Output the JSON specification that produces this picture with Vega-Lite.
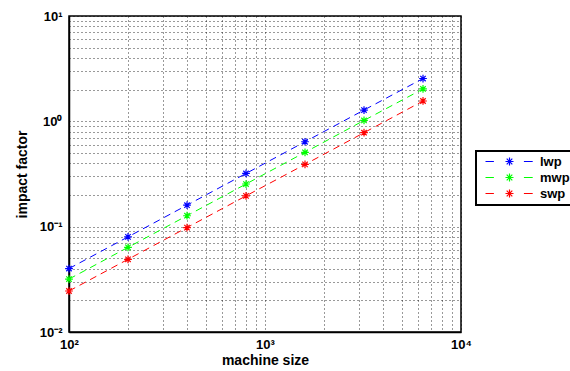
{
  "$schema": "https://vega.github.io/schema/vega-lite/v6.json",
  "width": 392,
  "height": 316,
  "autosize": {"type": "none"},
  "padding": {"left": 69, "top": 16, "right": 109, "bottom": 39},
  "background": "white",
  "config": {
    "view": {"stroke": "black", "strokeWidth": 1.5},
    "axis": {
      "domainColor": "black",
      "domainWidth": 1.5,
      "tickColor": "black",
      "labelFont": "Liberation Sans",
      "labelFontWeight": "bold",
      "labelFontSize": 13,
      "labelColor": "black",
      "titleFont": "Liberation Sans",
      "titleFontWeight": "bold",
      "titleFontSize": 14,
      "titleColor": "black",
      "gridColor": "black",
      "gridDash": [1, 3],
      "gridOpacity": 0.8,
      "tickSize": 0
    },
    "legend": {
      "labelFont": "Liberation Sans",
      "labelFontWeight": "bold",
      "labelFontSize": 13,
      "labelColor": "black"
    }
  },
  "data": {
    "values": [
      {"x": 100, "y": 0.04, "series": "lwp"},
      {"x": 200, "y": 0.08, "series": "lwp"},
      {"x": 400, "y": 0.16, "series": "lwp"},
      {"x": 800, "y": 0.32, "series": "lwp"},
      {"x": 1600, "y": 0.64, "series": "lwp"},
      {"x": 3200, "y": 1.28, "series": "lwp"},
      {"x": 6400, "y": 2.55, "series": "lwp"},
      {"x": 100, "y": 0.0318, "series": "mwp"},
      {"x": 200, "y": 0.0636, "series": "mwp"},
      {"x": 400, "y": 0.127, "series": "mwp"},
      {"x": 800, "y": 0.254, "series": "mwp"},
      {"x": 1600, "y": 0.508, "series": "mwp"},
      {"x": 3200, "y": 1.02, "series": "mwp"},
      {"x": 6400, "y": 2.03, "series": "mwp"},
      {"x": 100, "y": 0.0245, "series": "swp"},
      {"x": 200, "y": 0.049, "series": "swp"},
      {"x": 400, "y": 0.098, "series": "swp"},
      {"x": 800, "y": 0.196, "series": "swp"},
      {"x": 1600, "y": 0.39, "series": "swp"},
      {"x": 3200, "y": 0.78, "series": "swp"},
      {"x": 6400, "y": 1.56, "series": "swp"}
    ]
  },
  "encoding": {
    "x": {
      "field": "x",
      "type": "quantitative",
      "scale": {"type": "log", "domain": [100, 10000], "nice": false},
      "axis": {
        "title": "machine size",
        "values": [100, 200, 300, 400, 500, 600, 700, 800, 900, 1000, 2000, 3000, 4000, 5000, 6000, 7000, 8000, 9000, 10000],
        "labelExpr": "datum.value == 100 ? '10²' : datum.value == 1000 ? '10³' : datum.value == 10000 ? '10⁴' : ''",
        "labelPadding": 6,
        "titlePadding": 2,
        "labelFlush": false,
        "labelOverlap": false
      }
    },
    "y": {
      "field": "y",
      "type": "quantitative",
      "scale": {"type": "log", "domain": [0.01, 10], "nice": false},
      "axis": {
        "title": "impact factor",
        "values": [0.01, 0.02, 0.03, 0.04, 0.05, 0.06, 0.07, 0.08, 0.09, 0.1, 0.2, 0.3, 0.4, 0.5, 0.6, 0.7, 0.8, 0.9, 1, 2, 3, 4, 5, 6, 7, 8, 9, 10],
        "labelExpr": "datum.value == 0.01 ? '10⁻²' : datum.value == 0.1 ? '10⁻¹' : datum.value == 1 ? '10⁰' : datum.value == 10 ? '10¹' : ''",
        "labelPadding": 7,
        "titlePadding": 10,
        "labelFlush": false,
        "labelOverlap": false
      }
    },
    "color": {
      "field": "series",
      "type": "nominal",
      "scale": {"domain": ["lwp", "mwp", "swp"], "range": ["#0000ff", "#00ff00", "#ff0000"]},
      "legend": {
        "title": null,
        "orient": "none",
        "legendX": 407,
        "legendY": 135,
        "symbolType": "M-6,0H-3.9M3.6,0H5.8M0,-1V1M-1,0H1M-0.7,-0.7L0.7,0.7M-0.7,0.7L0.7,-0.7",
        "symbolSize": 64,
        "symbolStrokeWidth": 1.2,
        "symbolOffset": 23,
        "labelOffset": 24,
        "symbolFillColor": "transparent",
        "strokeColor": "black",
        "fillColor": "white",
        "padding": 4,
        "rowPadding": 2,
        "encode": {"legend": {"update": {"strokeWidth": {"value": 2}}}}
      }
    }
  },
  "layer": [
    {"mark": {"type": "line", "strokeDash": [7, 5], "strokeWidth": 1}},
    {
      "mark": {
        "type": "point",
        "shape": "M0,-1V1M-1,0H1M-0.7,-0.7L0.7,0.7M-0.7,0.7L0.7,-0.7",
        "filled": false,
        "size": 60,
        "strokeWidth": 1.2,
        "opacity": 1
      }
    }
  ]
}
